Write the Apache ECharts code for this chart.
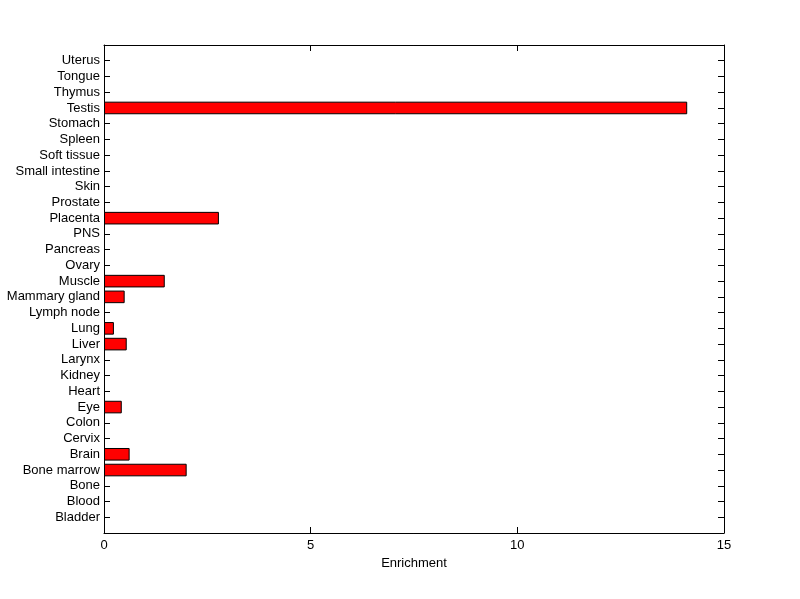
<!DOCTYPE html>
<html>
<head>
<meta charset="utf-8">
<script src="https://cdn.jsdelivr.net/npm/echarts@6/dist/echarts.min.js"></script>
<style>
  html, body { margin: 0; padding: 0; background: #fff; }
  #chart { width: 800px; height: 599px; }
</style>
</head>
<body>
<div id="chart"></div>
<script>
// categories from bottom to top
const tissues = ['Bladder', 'Blood', 'Bone', 'Bone marrow', 'Brain', 'Cervix', 'Colon', 'Eye',
  'Heart', 'Kidney', 'Larynx', 'Liver', 'Lung', 'Lymph node', 'Mammary gland', 'Muscle',
  'Ovary', 'Pancreas', 'PNS', 'Placenta', 'Prostate', 'Skin', 'Small intestine', 'Soft tissue',
  'Spleen', 'Stomach', 'Testis', 'Thymus', 'Tongue', 'Uterus'];
const enrichment = [0, 0, 0, 2.00, 0.62, 0, 0, 0.43,
  0, 0, 0, 0.55, 0.24, 0, 0.50, 1.47,
  0, 0, 0, 2.78, 0, 0, 0, 0,
  0, 0, 14.11, 0, 0, 0];
const xTicks = [0, 5, 10, 15];

// blank slots at both ends so the axis runs 0..31 like matlab's ylim
const cats = [''].concat(tissues, ['']);
const vals = [null].concat(enrichment.map(v => v > 0 ? v : null), [null]);

const font = 'Liberation Sans, Arial, sans-serif';
const lineStyle = { color: '#000', width: 1 };

function xAxis(pos, showLabel) {
  return {
    type: 'value',
    position: pos,
    min: xTicks[0],
    max: xTicks[xTicks.length - 1],
    interval: xTicks[1] - xTicks[0],
    axisLine: { show: true, onZero: false, lineStyle: lineStyle },
    axisTick: { show: true, inside: true, length: 6, lineStyle: lineStyle },
    axisLabel: { show: showLabel, color: '#000', fontSize: 13, fontFamily: font, margin: 6 },
    splitLine: { show: false }
  };
}

function yAxis(pos, showLabel) {
  return {
    type: 'category',
    position: pos,
    data: cats,
    boundaryGap: false,
    axisLine: { show: true, onZero: false, lineStyle: lineStyle },
    axisTick: { show: true, inside: true, length: 6, interval: 0, lineStyle: lineStyle },
    axisLabel: { show: showLabel, color: '#000', fontSize: 13, fontFamily: font, interval: 0, margin: 4 },
    splitLine: { show: false }
  };
}

const chart = echarts.init(document.getElementById('chart'));
const bottom = xAxis('bottom', true);
bottom.name = 'Enrichment';
bottom.nameLocation = 'middle';
bottom.nameGap = 24;
bottom.nameTextStyle = { color: '#000', fontSize: 13, fontFamily: font };

chart.setOption({
  animation: false,
  grid: { left: 104, right: 76, top: 45, bottom: 66 },
  xAxis: [bottom, xAxis('top', false)],
  yAxis: [yAxis('left', true), yAxis('right', false)],
  series: [{
    type: 'bar',
    xAxisIndex: 0,
    yAxisIndex: 0,
    data: vals,
    barWidth: '80%',
    itemStyle: { color: '#ff0000', borderColor: '#000', borderWidth: 1 }
  }]
});
</script>
</body>
</html>
